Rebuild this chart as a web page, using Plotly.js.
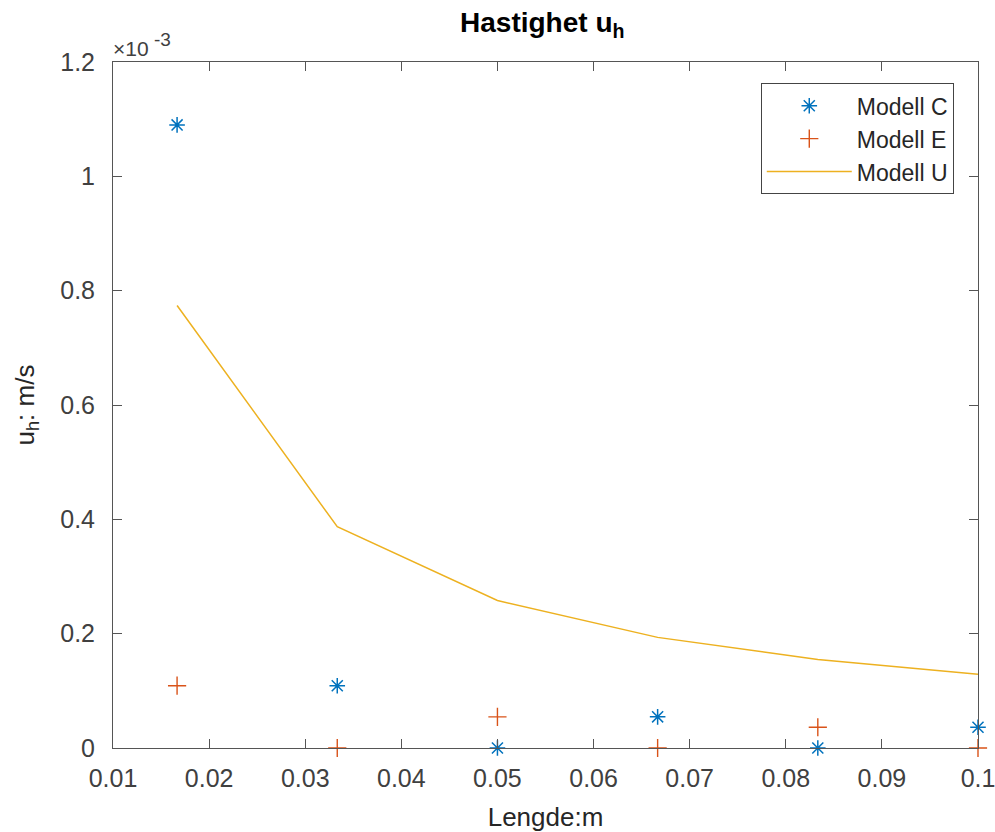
<!DOCTYPE html>
<html>
<head>
<meta charset="utf-8">
<script src="https://cdn.plot.ly/plotly-3.0.1.min.js"></script>
<style>html,body{margin:0;padding:0;background:#fff;}</style>
</head>
<body>
<div id="chart" style="width:995px;height:832px;"></div>
<script>
const xVals = [0.016667, 0.033333, 0.05, 0.066667, 0.083333, 0.1];
const modellC = [1.09e-3, 0.109e-3, 0, 0.0545e-3, 0, 0.0363e-3];
const modellE = [0.109e-3, 0, 0.0545e-3, 0, 0.0363e-3, 0];
const modellU = [0.774e-3, 0.387e-3, 0.258e-3, 0.1935e-3, 0.1548e-3, 0.129e-3];
const xTicks = [0.01, 0.02, 0.03, 0.04, 0.05, 0.06, 0.07, 0.08, 0.09, 0.1];
const xTickText = ['0.01','0.02','0.03','0.04','0.05','0.06','0.07','0.08','0.09','0.1'];
const yTicks = [0, 0.2e-3, 0.4e-3, 0.6e-3, 0.8e-3, 1.0e-3, 1.2e-3];
const yTickText = ['0','0.2','0.4','0.6','0.8','1','1.2'];

const axisColor = '#555555';
const font = 'Liberation Sans, Arial, sans-serif';

const traces = [
  {x: xVals, y: modellC, name: 'Modell C', mode: 'markers', type: 'scatter', legendgroup: 'c',
   marker: {symbol: 'asterisk-open', size: 13, color: '#0072BD', line: {color: '#0072BD', width: 1.5}},
   cliponaxis: false},
  {x: xVals, y: modellE, name: 'Modell E', mode: 'markers', type: 'scatter', legendgroup: 'e',
   marker: {symbol: 'cross-thin-open', size: 13, color: '#D95319', line: {color: '#D95319', width: 1.4}},
   cliponaxis: false},
  {x: xVals, y: modellU, name: 'Modell U', mode: 'lines', type: 'scatter', legendgroup: 'u',
   line: {color: '#EDB120', width: 1.5}, cliponaxis: false}
];

const layout = {
  width: 995, height: 832,
  paper_bgcolor: '#ffffff', plot_bgcolor: '#ffffff',
  margin: {l: 113, r: 17, t: 62, b: 84},
  font: {family: font, color: '#262626', size: 24},
  title: {text: '<b>Hastighet u<sub>h</sub></b>', x: 0.545, xanchor: 'center', y: 0.985, yanchor: 'top',
          font: {family: font, size: 28, color: '#000'}},
  showlegend: true,
  legend: {x: 0.972, xanchor: 'right', y: 0.969, yanchor: 'top',
           bgcolor: '#ffffff', bordercolor: '#444444', borderwidth: 1,
           itemwidth: 85, tracegroupgap: 0,
           font: {family: font, size: 23, color: '#262626'}},
  xaxis: {range: [0.01, 0.1], tickvals: xTicks, ticktext: xTickText,
          showgrid: false, zeroline: false, showline: true, linecolor: axisColor, linewidth: 1,
          mirror: 'ticks', ticks: 'inside', ticklen: 9, tickcolor: axisColor, ticklabelstandoff: 8,
          ticklabeloverflow: 'allow',
          tickfont: {family: font, size: 25, color: '#404040'},
          title: {text: 'Lengde:m', font: {family: font, size: 26, color: '#262626'}, standoff: 18}},
  yaxis: {range: [0, 1.2e-3], tickvals: yTicks, ticktext: yTickText,
          showgrid: false, zeroline: false, showline: true, linecolor: axisColor, linewidth: 1,
          mirror: 'ticks', ticks: 'inside', ticklen: 9, tickcolor: axisColor, ticklabelstandoff: 12,
          ticklabeloverflow: 'allow',
          tickfont: {family: font, size: 25, color: '#404040'},
          title: {text: 'u<sub>h</sub>: m/s', font: {family: font, size: 26, color: '#262626'}, standoff: 18}},
  annotations: [
    {text: '×10', xref: 'paper', yref: 'paper', x: 0, y: 1, xanchor: 'left', yanchor: 'bottom',
     showarrow: false, font: {family: font, size: 21, color: '#404040'}, xshift: -2, yshift: 0},
    {text: '-3', xref: 'paper', yref: 'paper', x: 0, y: 1, xanchor: 'left', yanchor: 'bottom',
     showarrow: false, font: {family: font, size: 19, color: '#404040'}, xshift: 39, yshift: 10}
  ]
};

Plotly.newPlot('chart', traces, layout, {displayModeBar: false, staticPlot: true});
</script>
</body>
</html>
